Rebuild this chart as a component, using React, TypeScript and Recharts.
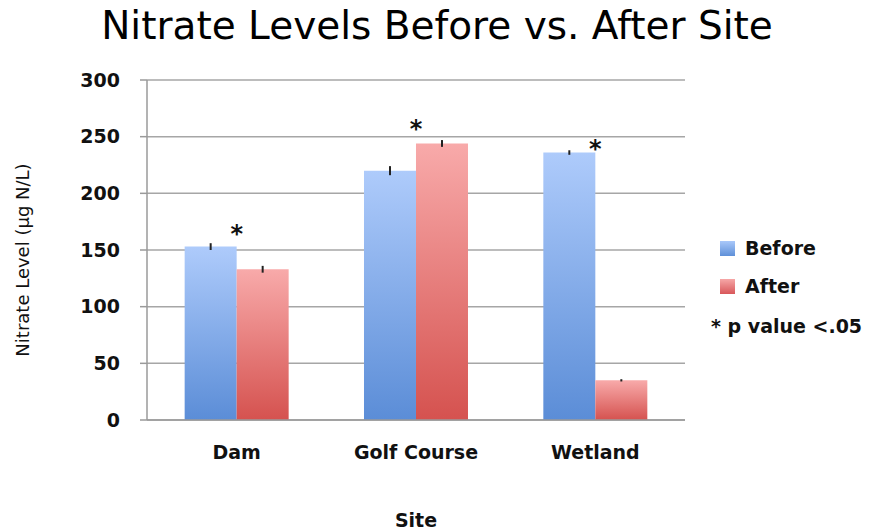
import React from 'react';
import { ComposedChart, Bar, Scatter, XAxis, YAxis, CartesianGrid, ErrorBar, Label } from 'recharts';

const sites = ['Dam', 'Golf Course', 'Wetland'];
const beforeValues = [153, 220, 236];
const afterValues = [133, 244, 35];
const beforeErrors = [3, 4, 2];
const afterErrors = [3, 3, 1];
// height of the "*" marker for each site
const significance = [168, 260, 243];
const yTicks = [0, 50, 100, 150, 200, 250, 300];

const data = sites.map((site, i) => ({
  site,
  before: beforeValues[i],
  after: afterValues[i],
  beforeErr: beforeErrors[i],
  afterErr: afterErrors[i],
  sig: significance[i],
}));

const font = '"DejaVu Sans", sans-serif';

const Asterisk = (props: any) => {
  const { cx, cy } = props;
  if (cx == null || cy == null) return null;
  return (
    <text x={cx} y={cy + 12} textAnchor="middle" fontFamily={font} fontWeight="bold" fontSize={24} fill="#111">
      *
    </text>
  );
};

const YTitle = (props: any) => {
  const { viewBox } = props;
  const cy = viewBox.y + viewBox.height / 2 + 10;
  return (
    <text
      x={22}
      y={cy}
      transform={`rotate(-90, 22, ${cy})`}
      textAnchor="middle"
      dominantBaseline="central"
      fontFamily={font}
      fontSize={18}
      fill="#111"
    >
      Nitrate Level (µg N/L)
    </text>
  );
};

const LegendBox = () => (
  <div style={{ position: 'absolute', left: 711, top: 229, fontFamily: font, fontSize: 19, fontWeight: 600, color: '#111' }}>
    <div style={{ display: 'flex', alignItems: 'center', marginLeft: 9, height: 38 }}>
      <span style={{ width: 15, height: 15, background: 'linear-gradient(#a9c8fa, #5f90d8)', marginRight: 10 }} />
      Before
    </div>
    <div style={{ display: 'flex', alignItems: 'center', marginLeft: 9, height: 38 }}>
      <span style={{ width: 15, height: 15, background: 'linear-gradient(#f6a7a7, #d8575a)', marginRight: 10 }} />
      After
    </div>
    <div style={{ marginTop: 10 }}>* p value &lt;.05</div>
  </div>
);

export default function App() {
  return (
    <div style={{ position: 'absolute', left: 0, top: 0, width: 874, height: 531, background: '#fff' }}>
      <div
        style={{
          position: 'absolute',
          left: 0,
          width: 874,
          top: 3,
          textAlign: 'center',
          fontFamily: font,
          fontSize: 39,
          color: '#000',
        }}
      >
        Nitrate Levels Before vs. After Site
      </div>
      <ComposedChart
        width={874}
        height={531}
        data={data}
        margin={{ top: 80, right: 189, left: 0, bottom: 0 }}
        barGap={0}
        barCategoryGap="21%"
      >
        <defs>
          <linearGradient id="beforeGrad" x1="0" y1="0" x2="0" y2="1">
            <stop offset="0%" stopColor="#aecbfb" />
            <stop offset="100%" stopColor="#5b8dd7" />
          </linearGradient>
          <linearGradient id="afterGrad" x1="0" y1="0" x2="0" y2="1">
            <stop offset="0%" stopColor="#f8aaaa" />
            <stop offset="100%" stopColor="#d5524f" />
          </linearGradient>
        </defs>
        <CartesianGrid vertical={false} stroke="#a6a6a6" strokeWidth={1.5} />
        <XAxis
          dataKey="site"
          height={111}
          stroke="#9a9a9a"
          strokeWidth={1.5}
          tickLine={false}
          tick={{ fontFamily: font, fontSize: 19, fontWeight: 600, fill: '#111' }}
          tickMargin={20}
        >
          <Label value="Site" position="insideBottom" offset={4} style={{ fontFamily: font, fontSize: 19, fontWeight: 600, fill: '#111' }} />
        </XAxis>
        <YAxis
          width={147}
          domain={[0, 300]}
          ticks={yTicks}
          stroke="#9a9a9a"
          strokeWidth={1.5}
          tickSize={7}
          tickMargin={20}
          tick={{ fontFamily: font, fontSize: 19, fontWeight: 600, fill: '#111' }}
        >
          <Label content={<YTitle />} />
        </YAxis>
        <Bar dataKey="before" name="Before" fill="url(#beforeGrad)" isAnimationActive={false}>
          <ErrorBar dataKey="beforeErr" width={0} stroke="#222" strokeWidth={2} />
        </Bar>
        <Bar dataKey="after" name="After" fill="url(#afterGrad)" isAnimationActive={false}>
          <ErrorBar dataKey="afterErr" width={0} stroke="#222" strokeWidth={2} />
        </Bar>
        <Scatter dataKey="sig" shape={<Asterisk />} legendType="none" isAnimationActive={false} />
      </ComposedChart>
      <LegendBox />
    </div>
  );
}
